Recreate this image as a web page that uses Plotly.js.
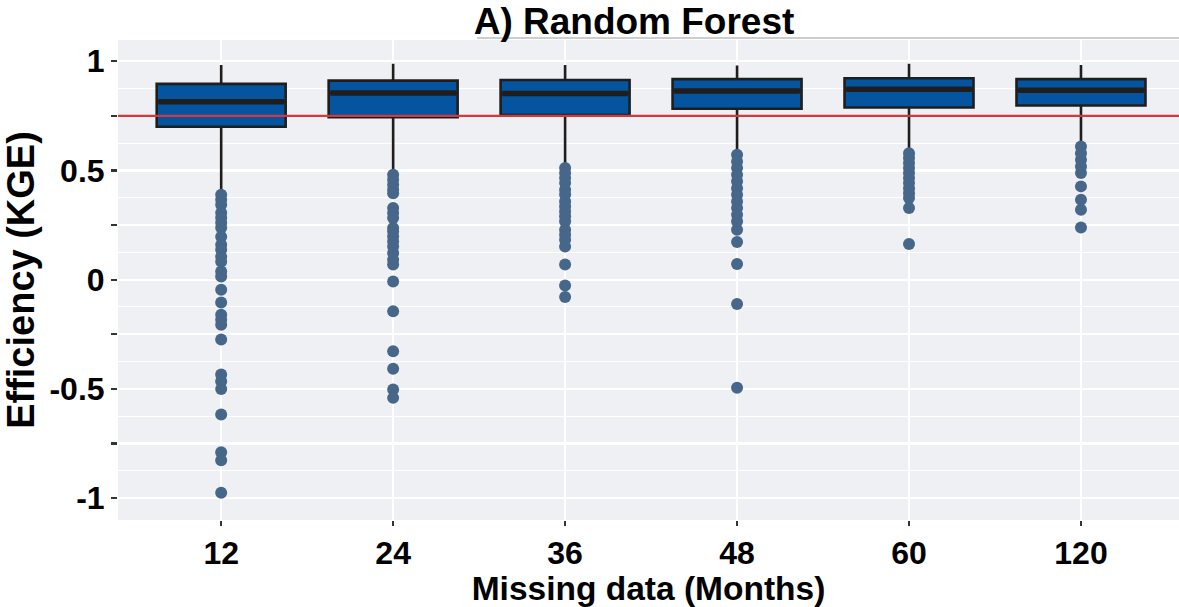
<!DOCTYPE html>
<html>
<head>
<meta charset="utf-8">
<script src="https://cdn.plot.ly/plotly-3.0.1.min.js"></script>
<style>html,body{margin:0;padding:0;background:#fff;}#chart{width:1179px;height:607px;}</style>
</head>
<body>
<div id="chart"></div>
<script>
const categories = ['12', '24', '36', '48', '60', '120'];
const q1 = [0.700, 0.744, 0.754, 0.782, 0.788, 0.797];
const medians = [0.814, 0.854, 0.852, 0.864, 0.872, 0.867];
const q3 = [0.896, 0.911, 0.914, 0.918, 0.922, 0.918];
const upperWhisker = [0.983, 0.988, 0.983, 0.980, 0.988, 0.983];
const lowerWhisker = [0.405, 0.503, 0.526, 0.582, 0.587, 0.625];
const threshold = 0.75;

const outliers12 = [0.389, 0.366, 0.343, 0.306, 0.283, 0.261, 0.238, 0.196, 0.160, 0.137, 0.105, 0.082, 0.037, 0.014, -0.046, -0.105, -0.160, -0.183, -0.206, -0.274, -0.434, -0.465, -0.500, -0.617, -0.790, -0.826, -0.975];
const outliers24 = [0.480, 0.457, 0.434, 0.412, 0.395, 0.328, 0.305, 0.282, 0.236, 0.221, 0.198, 0.175, 0.152, 0.122, 0.091, 0.069, -0.008, -0.145, -0.328, -0.408, -0.503, -0.541];
const outliers36 = [0.511, 0.488, 0.465, 0.442, 0.412, 0.390, 0.358, 0.335, 0.312, 0.290, 0.267, 0.229, 0.206, 0.183, 0.152, 0.069, -0.027, -0.079];
const outliers48 = [0.572, 0.541, 0.511, 0.480, 0.450, 0.419, 0.389, 0.358, 0.328, 0.297, 0.267, 0.229, 0.172, 0.072, -0.111, -0.495];
const outliers60 = [0.579, 0.557, 0.534, 0.511, 0.488, 0.465, 0.442, 0.419, 0.396, 0.374, 0.328, 0.163];
const outliers120 = [0.610, 0.579, 0.549, 0.518, 0.488, 0.427, 0.366, 0.320, 0.239];
const outlierGroups = [outliers12, outliers24, outliers36, outliers48, outliers60, outliers120];

const yTickVals = [-1, -0.75, -0.5, -0.25, 0, 0.25, 0.5, 0.75, 1];
const yTickText = ['-1', '', '-0.5', '', '0', '', '0.5', '', '1'];

const idx = categories.map((c, i) => i);
const boxWidth = 0.75;
const darkLine = '#1f1e1c';
const FONT = 'Liberation Sans, Arial, sans-serif';

const boxTrace = {
  type: 'box',
  x: idx,
  q1: q1, median: medians, q3: q3,
  lowerfence: lowerWhisker, upperfence: upperWhisker,
  width: boxWidth,
  whiskerwidth: 0,
  fillcolor: '#04549f',
  line: {color: darkLine, width: 2.6},
  boxpoints: false,
  hoverinfo: 'skip',
  showlegend: false
};

const ox = [], oy = [];
outlierGroups.forEach((g, i) => g.forEach(v => { ox.push(i); oy.push(v); }));
const outlierTrace = {
  type: 'scatter', mode: 'markers', x: ox, y: oy,
  marker: {color: '#466789', size: 12, line: {width: 0}},
  showlegend: false, hoverinfo: 'skip', cliponaxis: false
};

const mx = [], my = [];
medians.forEach((m, i) => { mx.push(i - boxWidth / 2 + 0.01, i + boxWidth / 2 - 0.01, null); my.push(m, m, null); });
const medianTrace = {
  type: 'scatter', mode: 'lines', x: mx, y: my,
  line: {color: darkLine, width: 5.5},
  showlegend: false, hoverinfo: 'skip'
};

const layout = {
  width: 1179, height: 607,
  margin: {l: 118, r: 0, t: 40, b: 87},
  paper_bgcolor: '#ffffff',
  plot_bgcolor: '#eff0f3',
  font: {family: FONT, color: '#000', size: 30},
  title: {
    text: '<b>A) Random Forest</b>',
    font: {family: FONT, size: 37, color: '#000'},
    xref: 'container', x: 634 / 1179, xanchor: 'center',
    yref: 'container', y: 1 - 21 / 607, yanchor: 'middle'
  },
  xaxis: {
    range: [-0.6, 5.57],
    tickmode: 'array', tickvals: idx, ticktext: categories.map(c => '<b>' + c + '</b>'),
    tickfont: {family: FONT, size: 32, color: '#000'},
    ticks: 'outside', ticklen: 5, tickwidth: 2, tickcolor: '#333',
    showgrid: true, gridcolor: '#ffffff', gridwidth: 2.2,
    zeroline: false, showline: false,
    title: {text: '<b>Missing data (Months)</b>', font: {family: FONT, size: 33.5, color: '#000'}, standoff: 0}
  },
  yaxis: {
    range: [-1.10, 1.097],
    tickmode: 'array', tickvals: yTickVals, ticktext: yTickText.map(t => t ? '<b>' + t + '</b>' : ''),
    tickfont: {family: FONT, size: 32, color: '#000'},
    ticks: 'outside', ticklen: 6, tickwidth: 2.2, tickcolor: '#333',
    showgrid: true, gridcolor: '#ffffff', gridwidth: 2.2,
    minor: {tickmode: 'linear', tick0: 0, dtick: 0.125, showgrid: true, gridcolor: '#ffffff', gridwidth: 1, ticks: ''},
    zeroline: false, showline: false,
    title: {text: '<b>Efficiency (KGE)</b>', font: {family: FONT, size: 38, color: '#000'}, standoff: 9}
  },
  shapes: [
    {type: 'line', xref: 'paper', x0: 0, x1: 1, yref: 'y', y0: threshold, y1: threshold,
     line: {color: '#d0393f', width: 2.2}, layer: 'above'},
    {type: 'line', xref: 'paper', x0: (477 - 118) / 1061, x1: 1, yref: 'paper', y0: 1.004, y1: 1.004,
     line: {color: '#bdbdbd', width: 1.5}, layer: 'above'}
  ],
  showlegend: false
};

Plotly.newPlot('chart', [boxTrace, outlierTrace, medianTrace], layout, {displayModeBar: false, staticPlot: true});
</script>
</body>
</html>
